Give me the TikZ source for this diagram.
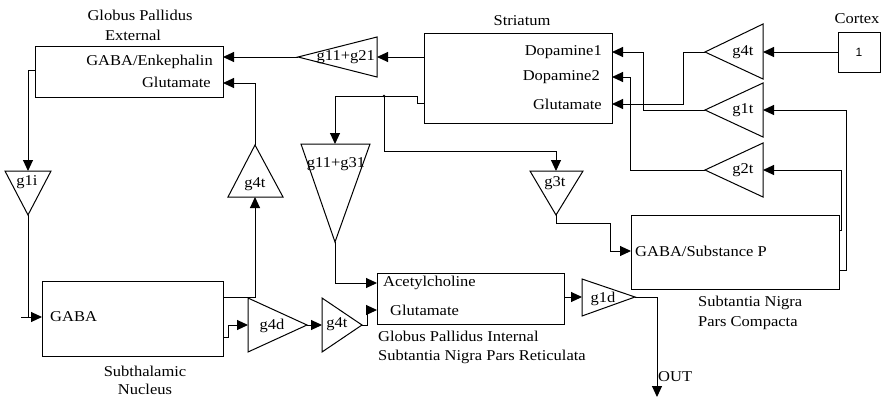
\documentclass[tikz,border=0pt]{standalone}
\usepackage{fontspec}
\setmainfont{Liberation Serif}[FakeStretch=1.1]
\newfontfamily\onefont{Liberation Sans}
\usetikzlibrary{arrows.meta}
\begin{document}
\begin{tikzpicture}[x=1pt,y=-1pt,
  every node/.style={inner sep=0pt, font=\fontsize{15}{17}\selectfont},
  blk/.style={draw, line width=1pt, minimum width=#1},
  tri/.style={draw, line width=1pt},
  wire/.style={draw, line width=1pt},
  arr/.style={wire, -{Triangle[length=11pt,width=10pt]}},
  txt/.style={text=black}]
\useasboundingbox (0,0) rectangle (886,397);
% ---------- blocks ----------
\node[blk=188pt, minimum height=51pt] (gpe) at (129,71.5) {};
\node[txt] (gpet1) at (140,15) {Globus Pallidus};
\node[txt] (gpet2) at (133,35) {External};
\node[txt, anchor=east] (gpea) at (213,62) {GABA/Enkephalin};
\node[txt, anchor=east] (gpeb) at (211,82) {Glutamate};

\node[blk=188pt, minimum height=90pt] (str) at (518,78) {};
\node[txt] (strt) at (522,21) {Striatum};
\node[txt, anchor=east] (stra) at (602,52) {Dopamine1};
\node[txt, anchor=east] (strb) at (600,77) {Dopamine2};
\node[txt, anchor=east] (strc) at (602,104) {Glutamate};

\node[blk=42pt, minimum height=40pt] (ctx) at (859,52) {};
\node[font=\onefont\fontsize{12}{13}\selectfont] (one) at (859,52) {1};
\node[txt] (ctxt) at (857,19) {Cortex};

\node[blk=181pt, minimum height=75pt] (stn) at (132.5,318.5) {};
\node[txt, anchor=west] (stna) at (50,317) {GABA};
\node[txt] (stnt1) at (145,371) {Subthalamic};
\node[txt] (stnt2) at (145,389) {Nucleus};

\node[blk=187pt, minimum height=51pt] (gpi) at (470.5,298.5) {};
\node[txt, anchor=west] (gpia) at (383,283) {Acetylcholine};
\node[txt, anchor=west] (gpib) at (390,310) {Glutamate};
\node[txt, anchor=west] (gpit1) at (378,336) {Globus Pallidus Internal};
\node[txt, anchor=west] (gpit2) at (378,357) {Subtantia Nigra Pars Reticulata};

\node[blk=208pt, minimum height=74pt] (snc) at (735,252) {};
\node[txt, anchor=west] (snca) at (635,251) {GABA/Substance P};
\node[txt, anchor=west] (snct1) at (698,303) {Subtantia Nigra};
\node[txt, anchor=west] (snct2) at (698,323) {Pars Compacta};

% ---------- gains ----------
% g11+g21
\draw[tri] (298,57) -- (377,37) -- (377,77) -- cycle;
\coordinate (t1o) at (298,57); \coordinate (t1i) at (377,57);
\node[txt, anchor=east] (t1l) at (375,57) {g11+g21};
% g4t (cortex)
\draw[tri] (705,52) -- (763,24) -- (763,79) -- cycle;
\coordinate (t2o) at (705,52); \coordinate (t2i) at (763,52);
\node[txt] (t2l) at (743,52) {g4t};
% g1t
\draw[tri] (705,110) -- (763,83) -- (763,137) -- cycle;
\coordinate (t3o) at (705,110); \coordinate (t3i) at (763,110);
\node[txt] (t3l) at (743,110) {g1t};
% g2t
\draw[tri] (705,170) -- (763,143) -- (763,197) -- cycle;
\coordinate (t4o) at (705,170); \coordinate (t4i) at (763,170);
\node[txt] (t4l) at (743,170) {g2t};
% g1i
\draw[tri] (28,215) -- (5,171) -- (51,171) -- cycle;
\coordinate (t5o) at (28,215); \coordinate (t5i) at (28,171);
\node[txt] (t5l) at (27,182) {g1i};
% g4t (STN -> GPe)
\draw[tri] (255,145) -- (228,197) -- (283,197) -- cycle;
\coordinate (t6o) at (255,145); \coordinate (t6i) at (255,197);
\node[txt] (t6l) at (255,184) {g4t};
% g11+g31
\draw[tri] (335,242) -- (301,144) -- (370,144) -- cycle;
\coordinate (t7o) at (335,242); \coordinate (t7i) at (335,144);
\node[txt] (t7l) at (336,164) {g11+g31};
% g3t
\draw[tri] (556,215) -- (530,171) -- (583,171) -- cycle;
\coordinate (t8o) at (556,215); \coordinate (t8i) at (556,171);
\node[txt] (t8l) at (555,183) {g3t};
% g4d
\draw[tri] (307,325) -- (248,298) -- (248,352) -- cycle;
\coordinate (t9o) at (307,325); \coordinate (t9i) at (248,325);
\node[txt] (t9l) at (272,326) {g4d};
% g4t (-> GPi)
\draw[tri] (362,325) -- (322,298) -- (322,352) -- cycle;
\coordinate (t10o) at (362,325); \coordinate (t10i) at (322,325);
\node[txt] (t10l) at (337,324) {g4t};
% g1d
\draw[tri] (635,297) -- (582,279) -- (582,316) -- cycle;
\coordinate (t11o) at (635,297); \coordinate (t11i) at (582,297);
\node[txt] (t11l) at (603,299) {g1d};

% ---------- ports ----------
\coordinate (stro1) at (424,57);
\coordinate (stro2) at (424,103);
\coordinate (stri1) at (612,52);
\coordinate (stri2) at (612,77);
\coordinate (stri3) at (612,104);
\coordinate (gpei1) at (223,57);
\coordinate (gpei2) at (223,83);
\coordinate (gpeo) at (35,70);
\coordinate (stni) at (42,317);
\coordinate (stno1) at (223,297);
\coordinate (stno2) at (223,337);
\coordinate (gpii1) at (377,283);
\coordinate (gpii2) at (377,310);
\coordinate (gpio) at (564,297);
\coordinate (snci) at (631,251);
\coordinate (snco1) at (839,230);
\coordinate (snco2) at (839,270);
\coordinate (ctxo) at (838,52);
\coordinate (out) at (657,397);
\coordinate (stub) at (21,317);
\coordinate (br) at (384,96);

% ---------- wires ----------
\draw[arr] (stro1) -- (t1i);
\draw[arr] (t1o) -- (gpei1);
\draw[arr] (t6o) |- (gpei2);
\draw[arr] (stno1) -| (t6i);
\draw[arr] (gpeo) -- (28,70) -- (t5i);
\draw[wire] (stub) -- (28,317);
\draw[arr] (t5o) |- (stni);
\draw[arr] (stno2) -- (228,337) |- (t9i);
\draw[arr] (t9o) -- (t10i);
\draw[arr] (t10o) -- (367,325) |- (gpii2);
\draw[arr] (stro2) -- (417,103) -- (417,96) -| (t7i);
\draw[arr] (br) |- (556,151) -- (t8i);
\fill (br) circle (1.3pt);
\draw[arr] (t7o) |- (gpii1);
\draw[arr] (t8o) -- (556,223) -| (610,251) -- (snci);
\draw[arr] (gpio) -- (t11i);
\draw[arr] (t11o) -| (out);
\node[txt, anchor=west] (outl) at (658,377) {OUT};
\draw[arr] (ctxo) -- (t2i);
\draw[arr] (t2o) -- (683,52) |- (stri3);
\draw[arr] (t3o) -- (643,110) |- (stri1);
\draw[arr] (t4o) -- (630,170) |- (stri2);
\draw[arr] (snco1) -- (841,230) |- (t4i);
\draw[arr] (snco2) -- (846,270) |- (t3i);
\end{tikzpicture}
\end{document}
